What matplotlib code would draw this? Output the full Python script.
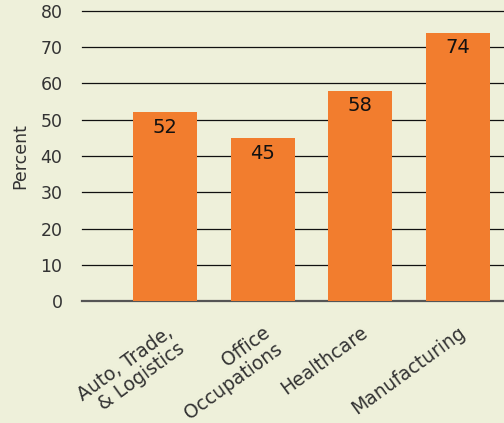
import numpy as np
import matplotlib.pyplot as plt
from matplotlib.transforms import ScaledTranslation

categories = ["Auto, Trade,\n& Logistics", "Office\nOccupations", "Healthcare", "Manufacturing"]
values = [52, 45, 58, 74]
yticks = [0, 10, 20, 30, 40, 50, 60, 70, 80]

bg = "#eef0da"
orange = "#f27d2e"

fig = plt.figure(figsize=(5.04, 4.23), dpi=100, facecolor=bg)
ax = fig.add_axes([82/504, 1-301/423, 1-82/504, (301-11)/423])
ax.set_facecolor(bg)

x = np.arange(len(categories))
ax.bar(x, values, width=0.655, color=orange, zorder=2)
for xi, v in zip(x, values):
    ax.text(xi, v - 4.2, str(v), ha="center", va="center", fontsize=14, color="#111111", zorder=3)

ax.set_yticks(yticks)
ax.set_ylim(0, 80)
ax.set_xlim(-0.85, 3.47)
for y in yticks:
    ax.axhline(y, color="#111111" if y else "#555555", lw=0.9 if y else 1.6, zorder=1, clip_on=False)

ax.set_xticks(x)
ax.set_xticklabels(categories, rotation=36, ha="right", va="top", rotation_mode="anchor",
                   multialignment="right", linespacing=1.05, fontsize=13.5, color="#333333")
shift = ScaledTranslation(5/72, 0, fig.dpi_scale_trans)
for lab in ax.get_xticklabels():
    lab.set_transform(lab.get_transform() + shift)
ax.tick_params(axis="x", length=0, pad=16)
ax.tick_params(axis="y", length=0, pad=14, labelsize=12.5, labelcolor="#333333")
ax.set_ylabel("Percent", fontsize=12.5, color="#333333", labelpad=8)
for s in ax.spines.values():
    s.set_visible(False)

fig.savefig("out.png", dpi=100, facecolor=bg)
